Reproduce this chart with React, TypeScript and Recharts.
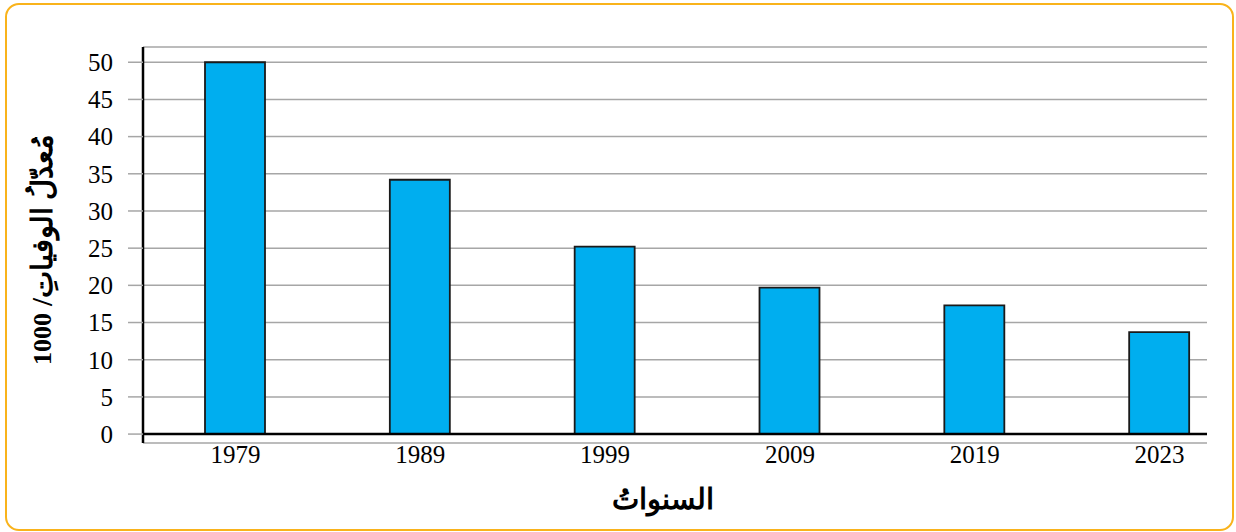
import { Bar, BarChart, CartesianGrid, ReferenceLine, XAxis, YAxis } from 'recharts';

const YEARS = ['1979', '1989', '1999', '2009', '2019', '2023'];
const DEATH_RATE = [50, 34.2, 25.2, 19.7, 17.3, 13.7];
const Y_TICKS = [0, 5, 10, 15, 20, 25, 30, 35, 40, 45, 50];

const Y_LABEL_AR = 'مُعدّلُ الوفياتِ';
const Y_LABEL_NUM = '1000';
const X_LABEL = 'السنواتُ';

const data = YEARS.map((year, i) => ({ year, rate: DEATH_RATE[i] }));

const FONT = '"Liberation Serif", "Times New Roman", serif';

function YTitle({ viewBox }: any) {
  // rotated title: number at the bottom, "/" and the arabic words above it
  const cx = viewBox.x - 41;
  const split = viewBox.y + viewBox.height / 2 + 68;
  return (
    <g transform={`translate(${cx} 0) rotate(-90)`}>
      <text
        x={-split}
        y={0}
        textAnchor="end"
        dominantBaseline="central"
        fontSize={26}
        fontWeight="bold"
        fontFamily={FONT}
        fill="#000"
      >
        {Y_LABEL_NUM}
      </text>
      <text
        x={-split + 7}
        y={0}
        textAnchor="start"
        dominantBaseline="central"
        fontSize={29}
        fontWeight="bold"
        fontFamily={FONT}
        fill="#000"
      >
        {'/' + Y_LABEL_AR}
      </text>
    </g>
  );
}

export default function App() {
  return (
    <div style={{ position: 'relative', width: 1236, height: 532, background: '#fff' }}>
      <style>{`body{margin:0} .recharts-cartesian-axis-tick-value{font-family:${FONT}}`}</style>
      <div
        style={{
          position: 'absolute',
          left: 5,
          top: 3,
          width: 1229,
          height: 528,
          border: '2.5px solid #f9b31b',
          borderRadius: 14,
          boxSizing: 'border-box'
        }}
      />
      <BarChart
        width={1236}
        height={532}
        data={data}
        margin={{ top: 47, right: 29, bottom: 29, left: 83 }}
        style={{ position: 'absolute', left: 0, top: 0, fontFamily: FONT }}
      >
        <CartesianGrid vertical={false} stroke="#a6a6a6" strokeWidth={1.5} />
        <XAxis
          dataKey="year"
          height={60}
          padding={{ left: 0, right: -45 }}
          axisLine={false}
          tickLine={false}
          tickSize={0}
          tickMargin={2}
          tick={{ fill: '#000', fontSize: 25, fontFamily: FONT }}
          label={{
            content: ({ viewBox }: any) => (
              <text
                x={viewBox.x + viewBox.width / 2 - 12}
                y={viewBox.y + 66}
                textAnchor="middle"
                fontSize={29}
                fontWeight="bold"
                fontFamily={FONT}
                fill="#000"
              >
                {X_LABEL}
              </text>
            )
          }}
        />
        <YAxis
          width={60}
          domain={[-1.2, 52.05]}
          ticks={Y_TICKS}
          interval={0}
          allowDataOverflow
          axisLine={{ stroke: '#000', strokeWidth: 2.5 }}
          tickLine={{ stroke: '#a6a6a6', strokeWidth: 1.5 }}
          tickSize={15}
          tickMargin={15}
          tick={{ fill: '#000', fontSize: 25, fontFamily: FONT }}
          label={{ content: YTitle }}
        />
        <ReferenceLine y={0} stroke="#000" strokeWidth={2.5} />
        <Bar dataKey="rate" barSize={60} fill="#00aeef" stroke="#1a1a1a" strokeWidth={1.8} isAnimationActive={false} />
      </BarChart>
    </div>
  );
}
